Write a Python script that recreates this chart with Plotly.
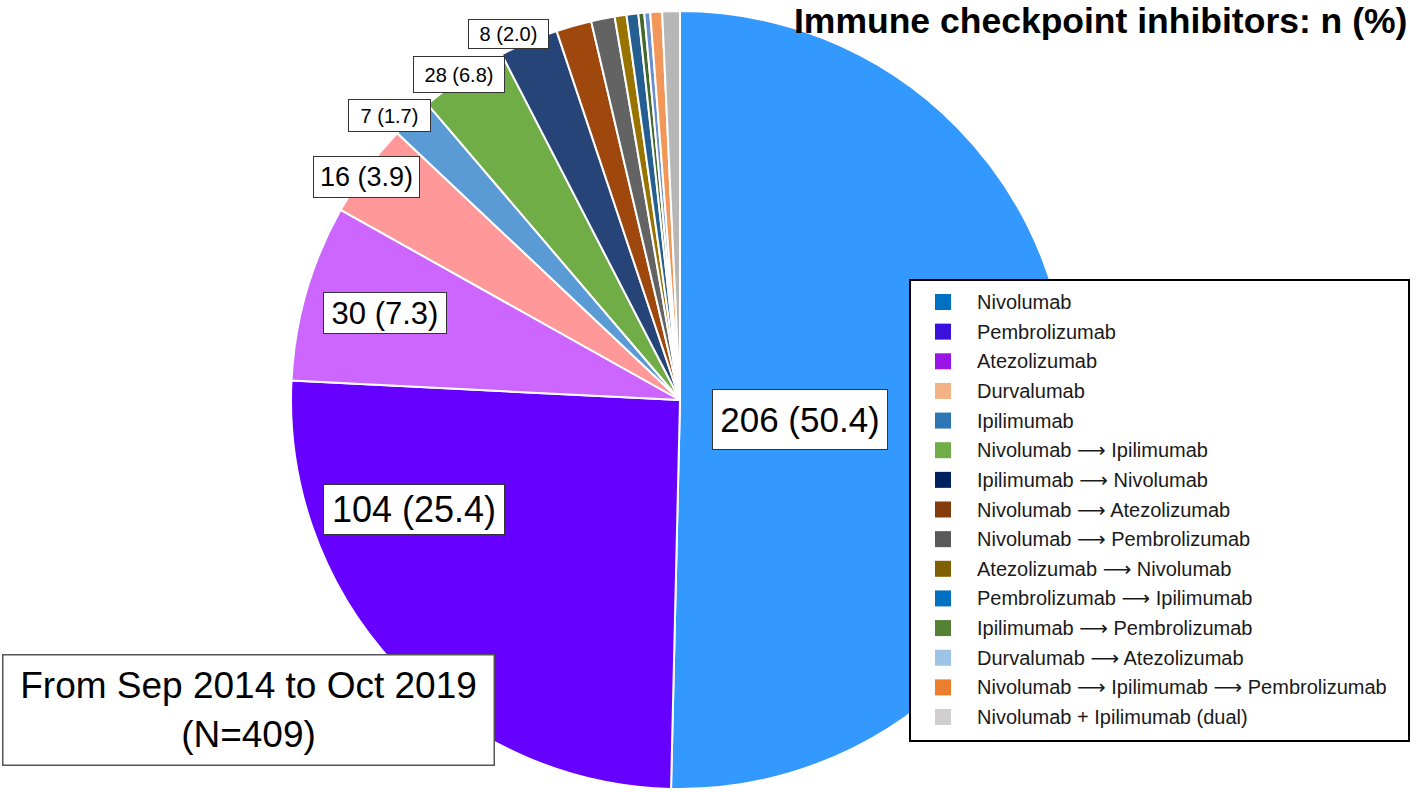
import plotly.graph_objects as go

W, H = 1416, 792

# ---------------- data ----------------
categories = [
    "Nivolumab", "Pembrolizumab", "Atezolizumab", "Durvalumab", "Ipilimumab",
    "Nivolumab → Ipilimumab", "Ipilimumab → Nivolumab", "Nivolumab → Atezolizumab",
    "Nivolumab → Pembrolizumab", "Atezolizumab → Nivolumab", "Pembrolizumab → Ipilimumab",
    "Ipilimumab → Pembrolizumab", "Durvalumab → Atezolizumab",
    "Nivolumab → Ipilimumab → Pembrolizumab", "Nivolumab + Ipilimumab (dual)",
]
# slice sizes as drawn in the picture (patients)
slice_sizes = [206, 104, 30, 16, 7, 15, 10, 6, 4, 2, 2, 1, 1, 2, 3]
# counts printed in the labels
label_counts = [206, 104, 30, 16, 7, 28, 8]
total_n = 409

slice_colors = ["#3399FF", "#6600FF", "#CC66FF", "#FF9999", "#5B9BD5", "#70AD47",
                "#264478", "#9E480E", "#636363", "#997300", "#255E91", "#43682B",
                "#698ED0", "#F1975A", "#B7B7B7"]
legend_colors = ["#0070C0", "#3A10DC", "#9B14E6", "#F4B183", "#2E75B6", "#70AD47",
                 "#002060", "#843C0C", "#595959", "#7F6000", "#0070C0", "#548235",
                 "#9DC3E6", "#ED7D31", "#D0CECE"]

# label box layout (pixel centre x, centre y, box w, box h, font size)
label_boxes = [
    (800, 419.5, 176, 61, 35),
    (414, 509.5, 182, 51, 36),
    (385, 313, 124, 42, 31),
    (366.5, 177, 107, 42, 27),
    (389.5, 115.5, 83, 33, 20),
    (459, 74.5, 92, 37, 20),
    (508.5, 34, 81, 30, 20),
]

FONT = "Liberation Sans, Arial, Helvetica, sans-serif"
ARROW = '<span style="font-family:DejaVu Sans">⟶</span>'


def px(x):
    return x / W


def py(y):
    return 1 - y / H


cx, cy, r = 680, 400, 389

fig = go.Figure(go.Pie(
    labels=categories,
    values=slice_sizes,
    sort=False,
    direction="clockwise",
    rotation=0,
    textinfo="none",
    hoverinfo="label+value",
    marker=dict(colors=slice_colors, line=dict(color="white", width=2)),
    domain=dict(x=[px(cx - r), px(cx + r)], y=[py(cy + r), py(cy - r)]),
    showlegend=False,
))

annotations = []
shapes = []

# slice labels
for n, (x, y, bw, bh, fs) in zip(label_counts, label_boxes):
    annotations.append(dict(
        x=px(x), y=py(y), xref="paper", yref="paper", xanchor="center", yanchor="middle",
        text=f"{n} ({100 * n / total_n:.1f})", showarrow=False,
        font=dict(family=FONT, size=fs, color="black"),
        bgcolor="white", bordercolor="#333333", borderwidth=1, borderpad=0,
        width=bw - 2, height=bh - 2, align="center", valign="middle",
    ))

# date box
annotations.append(dict(
    x=px(248.5), y=py(710), xref="paper", yref="paper", xanchor="center", yanchor="middle",
    text=f"From Sep 2014 to Oct 2019<br>(N={total_n})", showarrow=False,
    font=dict(family=FONT, size=37, color="black"),
    bgcolor="white", bordercolor="#555555", borderwidth=1.5, borderpad=0,
    width=490, height=109, align="center", valign="middle",
))

# title
annotations.append(dict(
    x=px(1409), y=py(-1), xref="paper", yref="paper", xanchor="right", yanchor="top",
    text="<b>Immune checkpoint inhibitors: n (%)</b>", showarrow=False,
    font=dict(family=FONT, size=35.5, color="black"),
))

# custom legend
lx0, ly0, lx1, ly1 = 910, 280, 1409, 741
shapes.append(dict(type="rect", xref="paper", yref="paper",
                   x0=px(lx0), x1=px(lx1), y0=py(ly1), y1=py(ly0),
                   line=dict(color="black", width=2), fillcolor="white", layer="above"))
row0, step = 302, (717 - 302) / 14
for i, (name, col) in enumerate(zip(categories, legend_colors)):
    yc = row0 + i * step
    shapes.append(dict(type="rect", xref="paper", yref="paper",
                       x0=px(935), x1=px(951), y0=py(yc + 8), y1=py(yc - 8),
                       line=dict(width=0), fillcolor=col, layer="above"))
    annotations.append(dict(
        x=px(975), y=py(yc), xref="paper", yref="paper", xanchor="left", yanchor="middle",
        text=name.replace("→", ARROW), showarrow=False,
        font=dict(family=FONT, size=20, color="#1a1a1a"),
    ))

fig.update_layout(
    width=W, height=H,
    margin=dict(l=0, r=0, t=0, b=0),
    paper_bgcolor="white", plot_bgcolor="white",
    annotations=annotations, shapes=shapes,
)

fig.write_html(
    "out.html",
    config={"displayModeBar": False},
    post_script="document.body.style.margin='0';document.body.style.overflow='hidden';",
)
